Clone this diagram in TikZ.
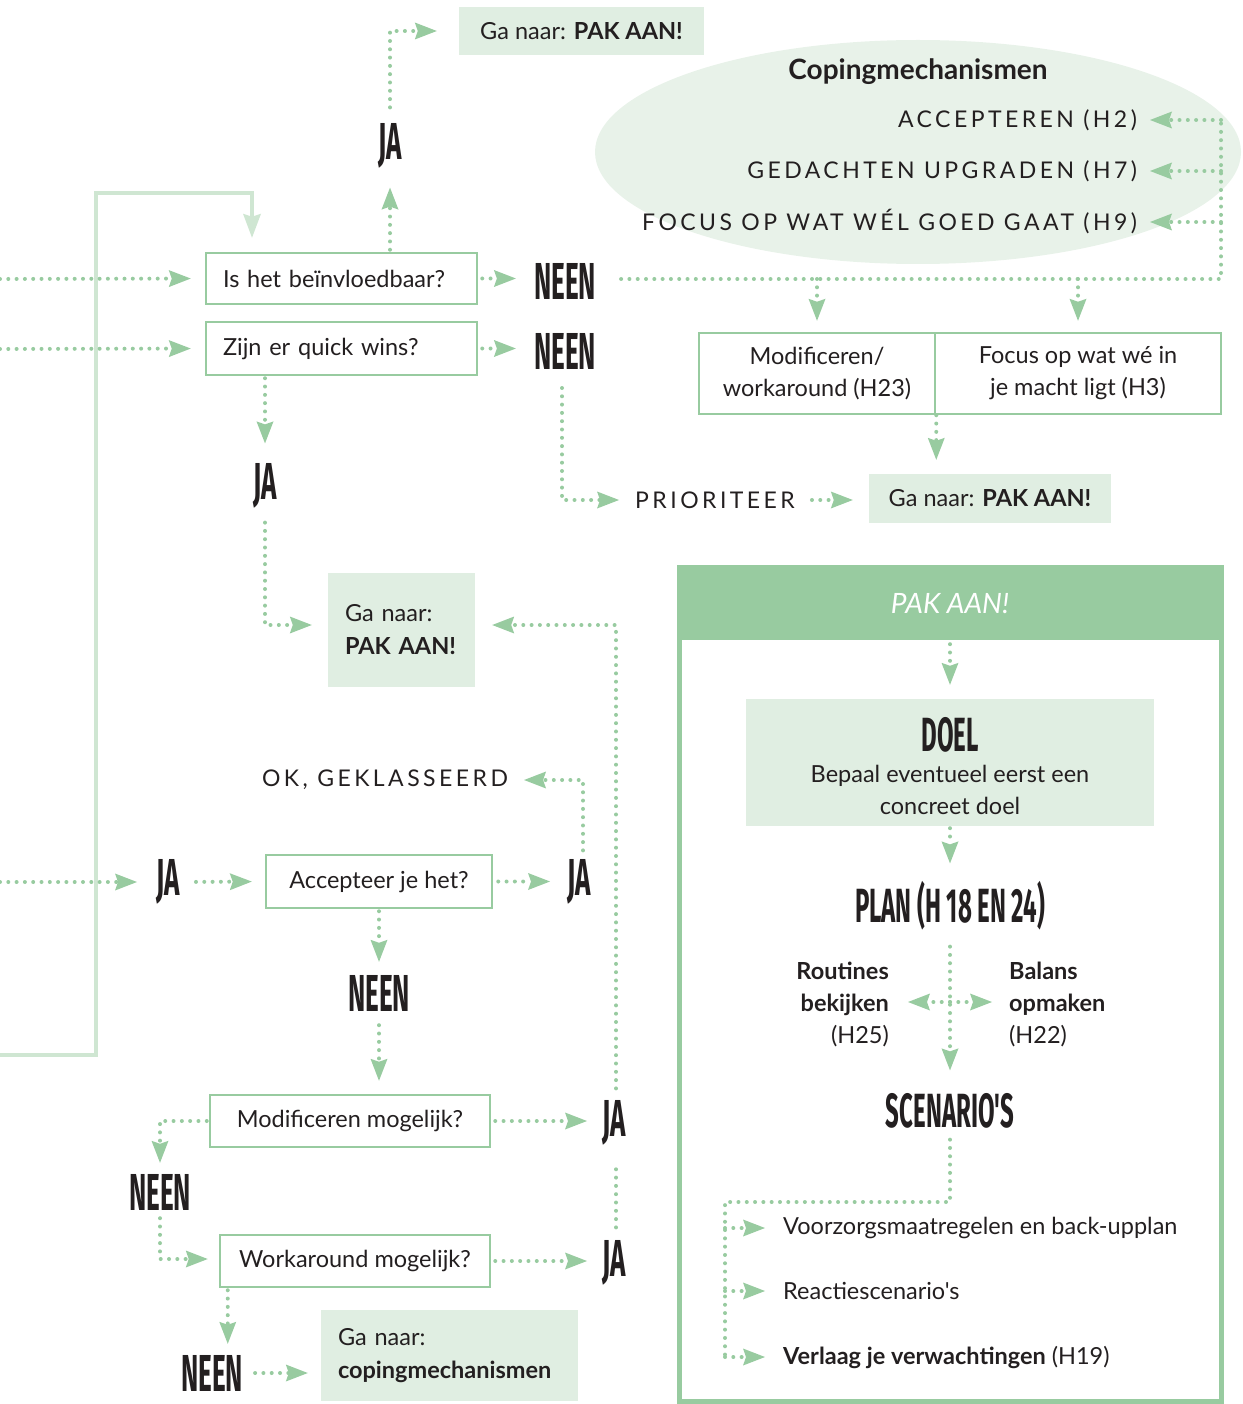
\documentclass[tikz,border=0pt]{standalone}
\usepackage{fontspec}
\setmainfont{Lato}[Ligatures=TeXOff]
\newfontfamily\cond[FakeStretch=0.5,Ligatures=TeXOff]{Fira Sans Bold}
\newfontfamily\spaced[LetterSpace=15]{Lato}
\usetikzlibrary{arrows.meta,shapes.geometric}
\definecolor{gline}{HTML}{98CBA0}
\definecolor{gbox}{HTML}{E0EEE2}
\definecolor{gell}{HTML}{E8F2E9}
\definecolor{gfb}{HTML}{CFE6D2}
\definecolor{txt}{HTML}{231F20}
\tikzset{
  dots/.style={gline, line width=4pt, line cap=round, dash pattern=on 0pt off 8.3pt},
  darr/.style={dots, -{Stealth[length=22pt,width=17pt,inset=3pt,line width=0pt]}},
  fbarr/.style={gfb, line width=4pt, -{Stealth[length=24pt,width=18pt,inset=3pt,line width=0pt]}},
  qbox/.style={draw=gline, line width=2.5pt, fill=white, text=txt, font=\fontsize{23.5}{32}\selectfont},
  gobox/.style={fill=gbox, text=txt, font=\fontsize{23.5}{33}\selectfont},
  big/.style={text=txt, font=\cond\fontsize{52}{52}\selectfont, inner sep=0pt},
  capt/.style={text=txt, font=\spaced\fontsize{23}{26}\selectfont, inner sep=0pt},
  lbl/.style={text=txt, font=\fontsize{23.5}{32}\selectfont, inner sep=0pt},
}
\begin{document}
\begin{tikzpicture}[x=1pt,y=-1pt]
\useasboundingbox (0,0) rectangle (1242,1404);

% ellipse
\node[ellipse, fill=gell, minimum width=646, minimum height=224, inner sep=0pt] (ell) at (918,152) {};
\node[lbl, font=\bfseries\fontsize{28}{30}\selectfont] (copt) at (918,72) {Copingmechanismen};
\node[capt, anchor=east] (c1) at (1137,120) {ACCEPTEREN (H2)};
\node[capt, anchor=east] (c2) at (1137,171) {GEDACHTEN UPGRADEN (H7)};
\node[capt, anchor=east] (c3) at (1137,222) {FOCUS OP WAT WÉL GOED GAAT (H9)};

% feedback line
\coordinate (fb0) at (0,1055);
\coordinate (fb1) at (96,1055);
\coordinate (fb2) at (96,193);
\coordinate (fbc) at (252,193);

% top part
\node[gobox, minimum width=245, minimum height=48] (go1) at (581.5,31) {Ga naar: \textbf{PAK AAN!}};
\node[big] (ja1) at (390,146) {JA};
\node[qbox, text width=237, align=left, inner xsep=17pt, minimum height=51] (q1) at (341.5,278.5) {Is het beïnvloedbaar?};
\node[qbox, text width=237, align=left, inner xsep=17pt, minimum height=53] (q2) at (341.5,348.5) {Zijn er quick wins?};
\draw[fbarr, shorten >=14pt] (fb0) -- (fb1) -- (fb2) -- (fbc) -- (fbc |- q1.north);

\node[big] (neen1) at (565,281) {NEEN};
\node[big] (neen2) at (565,351) {NEEN};

\coordinate (L1) at (0,279);
\coordinate (L2) at (0,349);
\draw[darr, shorten >=14pt] (L1) -- (q1.west);
\draw[darr, shorten >=14pt] (L2) -- (q2.west);
\draw[darr, shorten <=4pt, shorten >=18pt] (q1.east) -- (q1.east -| neen1.west);
\draw[darr, shorten <=4pt, shorten >=18pt] (q2.east) -- (q2.east -| neen2.west);
\draw[darr, shorten <=2pt, shorten >=19pt] (q1.north -| ja1) -- (ja1.south);
\draw[darr, shorten <=16pt, shorten >=22pt] (ja1.north) |- (go1.west);

% right of neen1
\coordinate (cR) at (1221,279);
\coordinate (cT) at (1221,120);
\draw[dots, shorten <=25pt] (neen1.east |- cR) -- (cR) -- (cT);
\draw[darr, shorten >=13pt] (cT) -- (c1.east);
\draw[darr, shorten >=13pt] (cT |- c2.east) -- (c2.east);
\draw[darr, shorten >=13pt] (cT |- c3.east) -- (c3.east);

\node[qbox, align=center, minimum width=236, minimum height=81, inner sep=0pt] (m1) at (817,373.5) {Modificeren/\\workaround (H23)};
\node[qbox, align=center, minimum width=286, minimum height=81, inner sep=0pt] (m2) at (1078,373.5) {Focus op wat wé in\\je macht ligt (H3)};
\coordinate (b1) at (817,279);
\coordinate (b2) at (1078,279);
\draw[darr, shorten >=11pt] (b1) -- (m1.north);
\draw[darr, shorten >=11pt] (b2) -- (m2.north);

\node[gobox, minimum width=242, minimum height=49] (go2) at (990,498.5) {Ga naar: \textbf{PAK AAN!}};
\draw[darr, shorten >=14pt] (m1.south east) -- (m1.south east |- go2.north);
\node[capt] (prior) at (715,500) {PRIORITEER};
\draw[darr, shorten <=17pt, shorten >=16pt] (prior.east) -- (prior.east -| go2.west);
\coordinate (n2s) at (562,351);
\draw[darr, shorten <=37pt, shorten >=16pt] (n2s) |- (prior.west);

% quick wins JA
\node[big] (ja2) at (265,486) {JA};
\draw[darr, shorten <=2pt, shorten >=20pt] (q2.south -| ja2) -- (ja2.north);
\node[gobox, text width=113, align=left, inner xsep=17pt, minimum height=114] (go3) at (401.5,630) {Ga naar:\\\textbf{PAK AAN!}};
\draw[darr, shorten <=14pt, shorten >=16pt] (ja2.south) |- ([yshift=5pt]go3.west);

% accept section
\node[capt] (ok) at (385,780) {OK, GEKLASSEERD};
\node[big] (jaL) at (168,882) {JA};
\node[qbox, minimum width=226, minimum height=53, inner sep=0pt] (acc) at (379,881.5) {Accepteer je het?};
\node[big] (jaA) at (579,882) {JA};
\coordinate (L3) at (0,882);
\draw[darr, shorten >=19pt] (L3) -- (jaL.west);
\draw[darr, shorten <=16pt, shorten >=13pt] (jaL.east) -- (acc.west);
\draw[darr, shorten <=5pt, shorten >=17pt] (acc.east) -- (acc.east -| jaA.west);
\draw[darr, shorten <=9pt, shorten >=16pt] ([xshift=4pt]jaA.north) |- (ok.east);
\node[big] (neenA) at (379,993) {NEEN};
\draw[darr, shorten <=2pt, shorten >=13pt] (acc.south) -- (neenA.north);

\node[qbox, minimum width=280, minimum height=52, inner sep=0pt] (modq) at (350,1121) {Modificeren mogelijk?};
\draw[darr, shorten <=14pt, shorten >=13pt] (neenA.south) -- (neenA.south |- modq.north);
\node[big] (jaM) at (614,1123) {JA};
\node[big] (jaW) at (614,1263) {JA};
\draw[darr, shorten <=4pt, shorten >=15pt] (modq.east) -- (modq.east -| jaM.west);
\node[big] (neenB) at (160,1192) {NEEN};
\draw[darr, shorten <=2pt, shorten >=11pt] (modq.west) -| (neenB.north);
\node[qbox, minimum width=270, minimum height=52, inner sep=0pt] (wq) at (355,1261) {Workaround mogelijk?};
\draw[darr, shorten <=8pt, shorten >=11pt] (neenB.south) |- ([yshift=2pt]wq.west);
\draw[darr, shorten <=4pt, shorten >=15pt] (wq.east) -- (wq.east -| jaW.west);
\draw[dots, shorten <=13pt, shorten >=17pt] ([xshift=2pt]jaW.north) -- ([xshift=2pt]jaM.south);
\draw[darr, shorten <=12pt, shorten >=17pt] ([xshift=2pt]jaM.north) |- ([yshift=5pt]go3.east);

\node[big] (neenC) at (212,1373) {NEEN};
\coordinate (wqs) at ([xshift=9pt]wq.south west);
\draw[darr, shorten <=2pt, shorten >=11pt] (wqs) -- (wqs |- neenC.north);
\node[gobox, text width=223, align=left, inner xsep=17pt, minimum height=91] (go4) at (449.5,1355.5) {Ga naar:\\\textbf{copingmechanismen}};
\draw[darr, shorten <=12pt, shorten >=13pt] (neenC.east) -- (neenC.east -| go4.west);

% PAK AAN panel
\node[draw=gline, line width=5pt, minimum width=542, minimum height=834, inner sep=0pt] (panel) at (950,984) {};
\node[fill=gline, minimum width=542, minimum height=73, inner sep=0pt, text=white, font=\itshape\fontsize{28}{30}\selectfont] (hdr) at (950,603.5) {PAK AAN!};
\node[fill=gbox, minimum width=408, minimum height=127, inner sep=0pt] (doel) at (950,762.5) {};
\node[big, font=\cond\fontsize{48}{48}\selectfont] (doelt) at (950,735) {DOEL};
\node[lbl, align=center] (doeltxt) at (950,790) {Bepaal eventueel eerst een\\concreet doel};
\draw[darr, shorten <=4pt, shorten >=14pt] (hdr.south) -- (doel.north);
\node[big, font=\cond\fontsize{48}{48}\selectfont] (plan) at (950,906) {PLAN (H 18 EN 24)};
\draw[darr, shorten <=2pt, shorten >=18pt] (doel.south) -- (plan.north);
\node[big, font=\cond\fontsize{48}{48}\selectfont] (scen) at (950,1111) {SCENARIO'S};
\draw[darr, shorten <=16pt, shorten >=23pt] (plan.south) -- (scen.north);
\node[lbl, align=right, anchor=east] (rout) at (889,1004) {\textbf{Routines}\\\textbf{bekijken}\\(H25)};
\node[lbl, align=left, anchor=west] (bal) at (1009,1004) {\textbf{Balans}\\\textbf{opmaken}\\(H22)};
\coordinate (pc) at (950,1002);
\draw[darr, shorten >=19pt] (pc) -- (pc -| rout.east);
\draw[darr, shorten >=17pt] (pc) -- (pc -| bal.west);

\node[lbl, anchor=west] (l1) at (783,1228) {Voorzorgsmaatregelen en back-upplan};
\node[lbl, anchor=west] (l2) at (783,1291) {Reactiescenario's};
\node[lbl, anchor=west] (l3) at (783,1357) {\textbf{Verlaag je verwachtingen} (H19)};
\coordinate (v1) at (725,1202);
\draw[dots, shorten <=11pt] (scen.south) |- (v1) -- (v1 |- l3.west);
\draw[darr, shorten >=18pt] (v1 |- l1.west) -- (l1.west);
\draw[darr, shorten >=18pt] (v1 |- l2.west) -- (l2.west);
\draw[darr, shorten >=18pt] (v1 |- l3.west) -- (l3.west);
\end{tikzpicture}
\end{document}
